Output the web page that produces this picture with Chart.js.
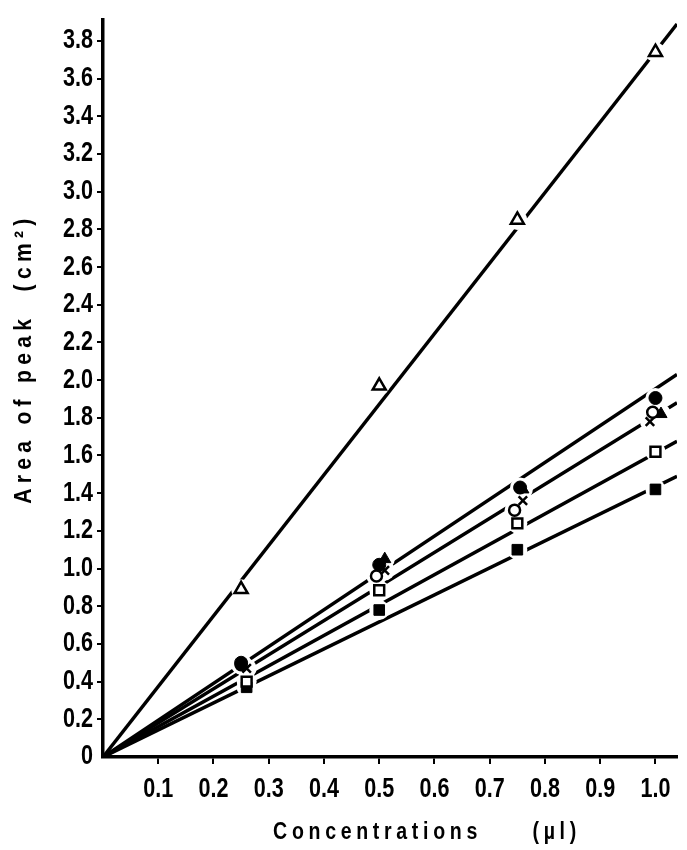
<!DOCTYPE html>
<html><head><meta charset="utf-8">
<script src="https://cdn.jsdelivr.net/npm/chart.js@4"></script>
<style>html,body{margin:0;padding:0;background:#fff}</style>
</head><body>
<canvas id="c" width="687" height="850"></canvas>
<script>
// ---- data ----
const triOpenX = [0.25, 0.50, 0.75, 1.00];
const triOpenY = [0.89, 1.97, 2.85, 3.74];
const circFilledX = [0.25, 0.50, 0.755, 1.00];
const circFilledY = [0.50, 1.02, 1.43, 1.905];
const circOpenX = [0.25, 0.495, 0.745, 0.995];
const circOpenY = [0.49, 0.96, 1.31, 1.83];
const crossX = [0.26, 0.51, 0.76, 0.99];
const crossY = [0.47, 0.99, 1.36, 1.78];
const triFilledX = [0.51, 0.76, 1.01];
const triFilledY = [1.05, 1.42, 1.82];
const sqOpenX = [0.26, 0.50, 0.75, 1.00];
const sqOpenY = [0.40, 0.885, 1.24, 1.62];
const sqFilledX = [0.26, 0.50, 0.75, 1.00];
const sqFilledY = [0.37, 0.78, 1.10, 1.42];
// fitted lines through the origin: value where each line leaves the frame
const lineStartX = 0, lineStartY = 0;
const lineEndX = 1.039;
const lineEndY = [3.89, 2.03, 1.88, 1.675, 1.49];
// axes
const xMin = 0, xMax = 1.039, xStep = 0.1;
const yMin = 0, yMax = 3.91, yStep = 0.2;
const xTitle = 'Concentrations     (µl)';
const yTitle = 'Area of peak  (cm²)';

const FONT = "'Liberation Sans', Arial, sans-serif";
const pts = (xs, ys) => xs.map((x, i) => ({x, y: ys[i]}));

const series = [
  {xs: triOpenX, ys: triOpenY, style: 'triangle', r: 7.5, fill: '#fff', bw: 2.5},
  {xs: circFilledX, ys: circFilledY, style: 'circle', r: 6.5, fill: '#000', bw: 1},
  {xs: circOpenX, ys: circOpenY, style: 'circle', r: 5.5, fill: '#fff', bw: 2.5},
  {xs: crossX, ys: crossY, style: 'crossRot', r: 6, fill: '#000', bw: 2.5},
  {xs: triFilledX, ys: triFilledY, style: 'triangle', r: 7, fill: '#000', bw: 1},
  {xs: sqOpenX, ys: sqOpenY, style: 'rect', r: 7, fill: '#fff', bw: 2.5},
  {xs: sqFilledX, ys: sqFilledY, style: 'rect', r: 7.5, fill: '#000', bw: 1}
];

const datasets = [];
lineEndY.forEach(ey => datasets.push({
  data: [{x: lineStartX, y: lineStartY}, {x: lineEndX, y: ey}],
  showLine: true, borderColor: '#000', borderWidth: 3.5, pointRadius: 0, order: 3
}));
series.forEach(s => datasets.push({
  data: pts(s.xs, s.ys), showLine: false, pointStyle: 'circle', pointRadius: 10,
  pointBackgroundColor: '#fff', pointBorderWidth: 0, pointBorderColor: '#fff', order: 2
}));
series.forEach(s => datasets.push({
  data: pts(s.xs, s.ys), showLine: false, pointStyle: s.style, pointRadius: s.r,
  pointBackgroundColor: s.fill, pointBorderColor: '#000', pointBorderWidth: s.bw, order: 1
}));

// draw text horizontally condensed (the original uses a condensed bold face)
function condensed(ctx, sx, spacing, fn) {
  const rot = ctx.rotate;
  ctx.save();
  if (spacing) ctx.letterSpacing = spacing + 'px';
  ctx.rotate = function (a) { rot.call(this, a); this.scale(sx, 1); };
  try { fn(); } finally { ctx.rotate = rot; ctx.restore(); }
}
function patchScale(scale, sx, titleSx, titleSpacing, dx, dy) {
  if (scale._patched) return;
  const origLabels = scale.drawLabels.bind(scale);
  const origTitle = scale.drawTitle.bind(scale);
  scale.drawLabels = function (ca) { condensed(this.ctx, sx, 0, () => origLabels(ca)); };
  scale.drawTitle = function () {
    const c = this.ctx;
    condensed(c, titleSx, titleSpacing, () => { c.translate(dx, dy); origTitle(); });
  };
  scale._patched = true;
}

const hideZero = (ctx) => (ctx.tick && Math.abs(ctx.tick.value) < 1e-9) ? 'rgba(0,0,0,0)' : '#000';

new Chart(document.getElementById('c'), {
  type: 'scatter',
  data: {datasets},
  options: {
    responsive: false, animation: false,
    layout: {padding: {top: 10, left: 0, right: 0, bottom: 0}},
    plugins: {legend: {display: false}, tooltip: {enabled: false}},
    scales: {
      x: {
        type: 'linear', min: xMin, max: xMax,
        afterFit: s => { s.height = 93; },
        border: {display: true, color: '#000', width: 3.5},
        grid: {drawOnChartArea: false, drawTicks: true, tickLength: 7, lineWidth: 2, color: hideZero},
        ticks: {stepSize: xStep, includeBounds: false, color: '#000', padding: 9, maxRotation: 0, autoSkip: false,
          font: {family: FONT, size: 27, weight: 'bold'},
          callback: v => Math.abs(v) < 1e-9 ? '' : v.toFixed(1)},
        title: {display: true, text: xTitle, color: '#000', padding: {top: 0, bottom: 4},
          font: {family: FONT, size: 23, weight: 'bold'}}
      },
      y: {
        type: 'linear', min: yMin, max: yMax,
        afterFit: s => { s.width = 103; },
        border: {display: true, color: '#000', width: 3.5},
        grid: {drawOnChartArea: false, drawTicks: true, tickLength: 6, lineWidth: 2, color: hideZero},
        ticks: {stepSize: yStep, includeBounds: false, color: '#000', padding: 4, autoSkip: false,
          font: {family: FONT, size: 27, weight: 'bold'},
          callback: v => Math.abs(v) < 1e-9 ? '0' : v.toFixed(1)},
        title: {display: true, text: yTitle, color: '#000', padding: {top: 10, bottom: 0},
          font: {family: FONT, size: 24, weight: 'bold'}}
      }
    }
  },
  plugins: [{
    id: 'condensedText',
    beforeDraw(chart) {
      patchScale(chart.scales.x, 0.8, 0.85, 5.5, 37, 0);
      patchScale(chart.scales.y, 0.8, 0.88, 6, 0, -30);
    }
  }]
});
</script>
</body></html>
